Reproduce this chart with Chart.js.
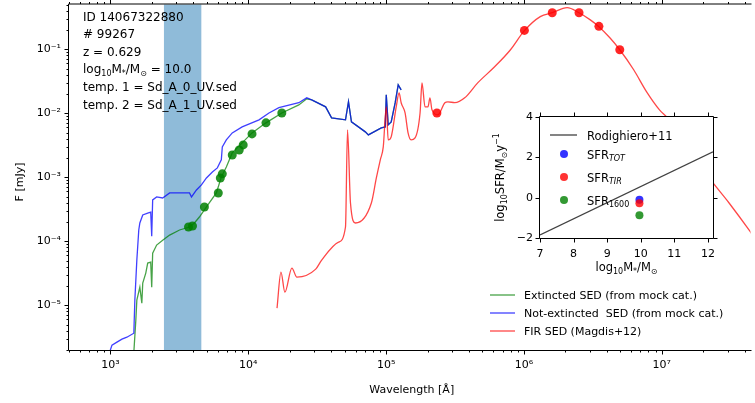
<!DOCTYPE html>
<html>
<head>
<meta charset="utf-8">
<script src="https://cdn.jsdelivr.net/npm/chart.js@4.4.1/dist/chart.umd.min.js"></script>
<style>
html, body { margin: 0; padding: 0; background: #fff; }
#wrap { position: relative; width: 755px; height: 403px; overflow: hidden; }
#sed { position: absolute; left: 0; top: 0; }
#inset { position: absolute; left: 470px; top: 100px; }
</style>
</head>
<body>
<div id="wrap">
<canvas id="sed" width="755" height="403"></canvas>
<canvas id="inset" width="260" height="180"></canvas>
</div>
<script>
// not-extincted SED (blue)
const blueWl = [990, 1025, 1114, 1211, 1315, 1477, 1502, 1553, 1604, 1633, 1714, 1862, 1958, 1991, 2023, 2162, 2391, 2686, 3171, 3744, 3870, 4205, 4570, 4966, 5485, 5960, 6370, 6475, 6925, 7645, 9020, 11960, 14120, 16670, 23240, 26540, 28840, 36380, 40180, 50700, 53300, 56000, 70600, 74300, 92200, 98500, 100200, 103500, 108800, 116300, 122300, 128500];
const blueFlux = [1.9e-6, 2.38e-6, 2.65e-6, 2.95e-6, 3.17e-6, 3.66e-6, 1.2e-5, 5.1e-5, 1.5e-4, 1.93e-4, 2.57e-4, 2.76e-4, 2.86e-4, 1.2e-4, 4.42e-4, 4.92e-4, 4.75e-4, 5.68e-4, 5.68e-4, 5.68e-4, 4.92e-4, 6.33e-4, 7.58e-4, 9.75e-4, 1.21e-3, 1.40e-3, 1.87e-3, 2.98e-3, 3.83e-3, 4.93e-3, 6.12e-3, 7.88e-3, 1.01e-2, 1.22e-2, 1.46e-2, 1.74e-2, 1.62e-2, 1.26e-2, 8.47e-3, 7.88e-3, 1.51e-2, 7.33e-3, 5.12e-3, 4.59e-3, 5.91e-3, 6.12e-3, 1.94e-2, 6.58e-3, 7.33e-3, 1.46e-2, 2.78e-2, 2.32e-2];

// extincted SED (green)
const greenWl = [1477, 1527, 1553, 1633, 1688, 1714, 1803, 1862, 1958, 1991, 2023, 2162, 2391, 2686, 3171, 3744, 4064, 4416, 4966, 5865, 6370, 6925, 7645, 9020, 10640, 13430, 17500, 23240, 26540, 28840, 36380, 40180, 50700, 53300, 56000, 70600, 74300, 92200, 98500, 100200, 103500, 108800, 116300, 122300, 128500];
const greenFlux = [1.85e-6, 5.85e-6, 1.2e-5, 1.92e-5, 1.08e-5, 2.22e-5, 3.18e-5, 4.56e-5, 4.72e-5, 1.92e-5, 6.53e-5, 8.72e-5, 1.04e-4, 1.25e-4, 1.5e-4, 1.67e-4, 1.93e-4, 2.39e-4, 3.43e-4, 5.68e-4, 1.01e-3, 1.45e-3, 2.4e-3, 3.44e-3, 4.93e-3, 7.08e-3, 1.01e-2, 1.35e-2, 1.68e-2, 1.62e-2, 1.26e-2, 8.47e-3, 7.88e-3, 1.51e-2, 7.33e-3, 5.12e-3, 4.59e-3, 5.91e-3, 6.12e-3, 1.94e-2, 6.58e-3, 7.33e-3, 1.46e-2, 2.78e-2, 2.32e-2];

// photometry (green dots)
const photWl = [3680, 3935, 4800, 6055, 6265, 6475, 7645, 8590, 9180, 10640, 13430, 17500];
const photFlux = [1.67e-4, 1.73e-4, 3.43e-4, 5.68e-4, 9.75e-4, 1.13e-3, 2.23e-3, 2.67e-3, 3.2e-3, 4.76e-3, 7.08e-3, 1.01e-2];

// FIR SED (red)
const firWl = [16150, 17250, 18420, 20700, 22500, 30830, 34060, 45150, 50700, 52440, 55100, 59900, 78100, 84900, 90700, 95300, 100200, 103500, 108800, 118300, 124200, 128500, 137200, 144200, 151600, 162100, 176200, 182000, 191400, 201100, 207900, 215000, 237500, 266800, 280500, 314900, 371500, 461400, 612200, 798300, 1.007e6, 1.313e6, 1.603e6, 2.056e6, 2.508e6, 3.01e6, 3.497e6, 4.198e6, 4.955e6, 6.25e6, 7.76e6, 9.62e6, 1.117e7, 2.207e7, 3.077e7, 4.29e7, 4.82e7];
const firFlux = [9.0e-6, 3.3e-5, 1.6e-5, 3.81e-5, 2.75e-5, 3.67e-5, 5.08e-5, 9.71e-5, 1.67e-4, 5.5e-3, 3.96e-4, 1.93e-4, 3.96e-4, 9.75e-4, 1.87e-3, 2.98e-3, 1.26e-2, 3.83e-3, 4.28e-3, 1.26e-2, 2.08e-2, 1.46e-2, 1.01e-2, 4.93e-3, 3.83e-3, 4.12e-3, 1.01e-2, 2.98e-2, 1.26e-2, 1.26e-2, 1.74e-2, 1.13e-2, 9.44e-3, 1.46e-2, 1.51e-2, 1.46e-2, 1.74e-2, 2.98e-2, 5.32e-2, 9.82e-2, 0.195, 0.323, 0.372, 0.446, 0.372, 0.29, 0.225, 0.151, 9.82e-2, 4.78e-2, 2.16e-2, 1.13e-2, 8.17e-3, 9.75e-4, 3.96e-4, 1.5e-4, 1.04e-4];

// FIR photometry (red dots)
const firPhotWl = [233400, 1.007e6, 1.603e6, 2.508e6, 3.497e6, 4.955e6];
const firPhotFlux = [1.01e-2, 0.197, 0.372, 0.372, 0.228, 9.82e-2];

// shaded band
const bandWl = [2443, 4561];

// axes
const xDecades = [1e3, 1e4, 1e5, 1e6, 1e7];
const xDecadeLabels = ['10³', '10⁴', '10⁵', '10⁶', '10⁷'];
const yDecades = [1e-5, 1e-4, 1e-3, 1e-2, 1e-1];
const yDecadeLabels = ['10⁻⁵', '10⁻⁴', '10⁻³', '10⁻²', '10⁻¹'];

const infoLines = [
  [['ID 14067322880']],
  [['# 99267']],
  [['z = 0.629']],
  [['log'], ['10', 'sub'], ['M'], ['*', 'sub'], ['/M'], ['⊙', 'sub'], [' = 10.0']],
  [['temp. 1 = Sd_A_0_UV.sed']],
  [['temp. 2 = Sd_A_1_UV.sed']]
];
const legendNames = ['Extincted SED (from mock cat.)', 'Not-extincted  SED (from mock cat.)', 'FIR SED (Magdis+12)'];

// inset: SFR vs stellar mass
const rodiMass = [7, 12.15];
const rodiSfr = [-1.85, 2.27];
const sfrNames = ['SFR_TOT', 'SFR_TIR', 'SFR_1600'];
const sfrMass = [9.96, 9.96, 9.96];
const sfrValue = [-0.1, -0.28, -0.87];
const insetXTicks = [7, 8, 9, 10, 11, 12];
const insetYTicks = [-2, 0, 2, 4];

const FONT = 'DejaVu Sans';
const BLUE = 'rgba(0,0,255,0.75)';
const GREEN = 'rgba(0,128,0,0.72)';
const RED = 'rgba(255,0,0,0.72)';

function zip(xs, ys) { return xs.map((x, i) => ({ x: x, y: ys[i] })); }

function logTicks(min, max) {
  const out = [];
  for (let e = Math.floor(Math.log10(min)); e <= Math.ceil(Math.log10(max)); e++) {
    for (let m = 1; m <= 9; m++) {
      const v = m * Math.pow(10, e);
      if (v >= min * 0.999999 && v <= max * 1.000001) out.push(v);
    }
  }
  return out;
}
function decadeIndex(list, v) {
  return list.findIndex(d => Math.abs(Math.log10(d) - Math.log10(v)) < 1e-6);
}

function drawRich(ctx, parts, x, y, size, align) {
  const fontFor = k => (k === 'isub' ? 'italic ' : '') + (k ? Math.round(size * 0.7) : size) + 'px "' + FONT + '"';
  let w = 0;
  parts.forEach(p => { ctx.font = fontFor(p[1] || ''); w += ctx.measureText(p[0]).width; });
  let cx = align === 'center' ? x - w / 2 : x;
  ctx.textAlign = 'left';
  ctx.textBaseline = 'alphabetic';
  parts.forEach(p => {
    const k = p[1] || '';
    ctx.font = fontFor(k);
    const dy = k === 'sup' ? -size * 0.42 : (k ? size * 0.22 : 0);
    ctx.fillText(p[0], cx, y + dy);
    cx += ctx.measureText(p[0]).width;
  });
}

function sub(label) {
  const i = label.indexOf('_');
  if (i < 0) return [[label]];
  const s = label.slice(i + 1);
  return [[label.slice(0, i)], [s, /^\d+$/.test(s) ? 'sub' : 'isub']];
}

const sedDecor = {
  id: 'sedDecor',
  beforeDatasetsDraw(chart) {
    const { ctx, chartArea: a, scales: { x } } = chart;
    const x0 = x.getPixelForValue(bandWl[0]);
    const x1 = x.getPixelForValue(bandWl[1]);
    ctx.save();
    ctx.fillStyle = 'rgba(31,119,180,0.5)';
    ctx.fillRect(x0, a.top, x1 - x0, a.bottom - a.top);
    ctx.restore();
  },
  afterDraw(chart) {
    const { ctx, chartArea: a, scales: { x, y } } = chart;
    ctx.save();
    ctx.strokeStyle = '#000';
    ctx.lineWidth = 1;
    ctx.beginPath();
    ctx.moveTo(a.left - 0.5, a.top - 0.5);
    ctx.lineTo(a.right + 1, a.top - 0.5);
    ctx.moveTo(a.left - 0.5, a.top - 0.5);
    ctx.lineTo(a.left - 0.5, a.bottom + 0.5);
    ctx.lineTo(a.right + 1, a.bottom + 0.5);
    x.ticks.forEach(t => {
      const px = Math.round(x.getPixelForValue(t.value)) + 0.5;
      const len = decadeIndex(xDecades, t.value) >= 0 ? 4 : 2;
      ctx.moveTo(px, a.bottom + 0.5); ctx.lineTo(px, a.bottom + 0.5 + len);
      ctx.moveTo(px, a.top - 0.5); ctx.lineTo(px, a.top - 0.5 - len);
    });
    y.ticks.forEach(t => {
      const py = Math.round(y.getPixelForValue(t.value)) + 0.5;
      const len = decadeIndex(yDecades, t.value) >= 0 ? 4 : 2;
      ctx.moveTo(a.left - 0.5, py); ctx.lineTo(a.left - 0.5 - len, py);
    });
    ctx.stroke();

    ctx.fillStyle = '#000';
    infoLines.forEach((ln, i) => drawRich(ctx, ln, 83, 20.5 + i * 17.6, 12, 'left'));

    // legend
    [GREEN, BLUE, RED].forEach((c, i) => {
      const ly = 295 + i * 18;
      ctx.strokeStyle = c;
      ctx.lineWidth = 1.3;
      ctx.beginPath();
      ctx.moveTo(490, ly); ctx.lineTo(515, ly);
      ctx.stroke();
      ctx.fillStyle = '#000';
      drawRich(ctx, [[legendNames[i]]], 524, ly + 4, 11, 'left');
    });

    drawRich(ctx, [['Wavelength [Å]']], (a.left + a.right) / 2 + 2, 393, 11, 'center');
    ctx.translate(23, 182);
    ctx.rotate(-Math.PI / 2);
    drawRich(ctx, [['F [mJy]']], 0, 0, 11, 'center');
    ctx.restore();
  }
};

new Chart(document.getElementById('sed'), {
  type: 'scatter',
  data: {
    datasets: [
      { data: zip(photWl, photFlux), backgroundColor: 'rgba(0,128,0,0.85)', borderWidth: 0, pointRadius: 4.5, order: 0 },
      { data: zip(firPhotWl, firPhotFlux), backgroundColor: 'rgba(255,0,0,0.85)', borderWidth: 0, pointRadius: 4.5, order: 0 },
      { data: zip(firWl, firFlux), showLine: true, borderColor: RED, borderWidth: 1.3, pointRadius: 0, cubicInterpolationMode: 'monotone', order: 1 },
      { data: zip(blueWl, blueFlux), showLine: true, borderColor: BLUE, borderWidth: 1.3, pointRadius: 0, order: 2 },
      { data: zip(greenWl, greenFlux), showLine: true, borderColor: GREEN, borderWidth: 1.3, pointRadius: 0, order: 3 }
    ]
  },
  options: {
    responsive: false,
    animation: false,
    layout: { padding: { top: 4, left: 0, right: 0, bottom: 0 } },
    plugins: { legend: { display: false }, tooltip: { enabled: false } },
    scales: {
      x: {
        type: 'logarithmic', min: 500, max: 4.4e7,
        grid: { display: false, drawTicks: false, tickLength: 0 },
        border: { display: false },
        afterBuildTicks: s => { s.ticks = logTicks(s.min, s.max).map(v => ({ value: v })); },
        afterFit: s => { s.height = 53; s.paddingLeft = 0; s.paddingRight = 0; },
        ticks: {
          autoSkip: false, maxRotation: 0, padding: 9, color: '#000',
          font: { family: FONT, size: 11 },
          callback: v => { const i = decadeIndex(xDecades, v); return i >= 0 ? xDecadeLabels[i] : ''; }
        }
      },
      y: {
        type: 'logarithmic', min: 2e-6, max: 0.5,
        grid: { display: false, drawTicks: false, tickLength: 0 },
        border: { display: false },
        afterBuildTicks: s => { s.ticks = logTicks(s.min, s.max).map(v => ({ value: v })); },
        afterFit: s => { s.width = 69; s.paddingTop = 0; s.paddingBottom = 0; },
        ticks: {
          autoSkip: false, padding: 8, color: '#000',
          font: { family: FONT, size: 11 },
          callback: v => { const i = decadeIndex(yDecades, v); return i >= 0 ? yDecadeLabels[i] : ''; }
        }
      }
    }
  },
  plugins: [sedDecor]
});

const insetDecor = {
  id: 'insetDecor',
  beforeDraw(chart) {
    const { ctx, chartArea: a } = chart;
    ctx.save();
    ctx.fillStyle = '#fff';
    ctx.fillRect(a.left, a.top, a.right - a.left, a.bottom - a.top);
    ctx.restore();
  },
  afterDraw(chart) {
    const { ctx, chartArea: a, scales: { x, y } } = chart;
    ctx.save();
    ctx.strokeStyle = '#000';
    ctx.lineWidth = 1;
    ctx.beginPath();
    ctx.rect(a.left - 0.5, a.top - 0.5, a.right - a.left + 1, a.bottom - a.top + 1);
    insetXTicks.forEach(v => {
      const px = Math.round(x.getPixelForValue(v)) + 0.5;
      ctx.moveTo(px, a.bottom + 0.5); ctx.lineTo(px, a.bottom + 4.5);
      ctx.moveTo(px, a.top - 0.5); ctx.lineTo(px, a.top - 4.5);
    });
    insetYTicks.forEach(v => {
      const py = Math.round(y.getPixelForValue(v)) + 0.5;
      ctx.moveTo(a.left - 0.5, py); ctx.lineTo(a.left - 4.5, py);
      ctx.moveTo(a.right + 0.5, py); ctx.lineTo(a.right + 4.5, py);
    });
    ctx.stroke();

    // legend
    ctx.strokeStyle = 'rgba(0,0,0,0.75)';
    ctx.lineWidth = 1.3;
    ctx.beginPath();
    ctx.moveTo(80, 35); ctx.lineTo(107, 35);
    ctx.stroke();
    ctx.fillStyle = '#000';
    drawRich(ctx, [['Rodighiero+11']], 117, 39.5, 11.5, 'left');
    const cols = ['rgba(0,0,255,0.8)', 'rgba(255,0,0,0.8)', 'rgba(0,128,0,0.8)'];
    sfrNames.forEach((n, i) => {
      const ly = 54 + i * 23;
      ctx.fillStyle = cols[i];
      ctx.beginPath();
      ctx.arc(94, ly, 4, 0, Math.PI * 2);
      ctx.fill();
      ctx.fillStyle = '#000';
      drawRich(ctx, sub(n), 117, ly + 4.5, 11.5, 'left');
    });

    drawRich(ctx, [['log'], ['10', 'sub'], ['M'], ['*', 'sub'], ['/M'], ['⊙', 'sub']], (a.left + a.right) / 2, 171, 11.5, 'center');
    ctx.translate(34, (a.top + a.bottom) / 2);
    ctx.rotate(-Math.PI / 2);
    drawRich(ctx, [['log'], ['10', 'sub'], ['SFR/M'], ['⊙', 'sub'], ['y'], ['−1', 'sup']], 0, 0, 11.5, 'center');
    ctx.restore();
  }
};

new Chart(document.getElementById('inset'), {
  type: 'scatter',
  data: {
    datasets: [
      { data: zip(sfrMass.slice(2), sfrValue.slice(2)), backgroundColor: 'rgba(0,128,0,0.8)', borderWidth: 0, pointRadius: 4, order: 0 },
      { data: zip(sfrMass.slice(1, 2), sfrValue.slice(1, 2)), backgroundColor: 'rgba(255,0,0,0.8)', borderWidth: 0, pointRadius: 4, order: 1 },
      { data: zip(sfrMass.slice(0, 1), sfrValue.slice(0, 1)), backgroundColor: 'rgba(0,0,255,0.8)', borderWidth: 0, pointRadius: 4, order: 2 },
      { data: zip(rodiMass, rodiSfr), showLine: true, borderColor: 'rgba(0,0,0,0.75)', borderWidth: 1.3, pointRadius: 0, order: 3 }
    ]
  },
  options: {
    responsive: false,
    animation: false,
    layout: { padding: { top: 17, right: 17, left: 0, bottom: 0 } },
    plugins: { legend: { display: false }, tooltip: { enabled: false } },
    scales: {
      x: {
        type: 'linear', min: 7, max: 12.15,
        grid: { display: false, drawTicks: false, tickLength: 0 },
        border: { display: false },
        afterBuildTicks: s => { s.ticks = insetXTicks.map(v => ({ value: v })); },
        afterFit: s => { s.height = 42; s.paddingLeft = 0; s.paddingRight = 0; },
        ticks: { autoSkip: false, maxRotation: 0, padding: 10, color: '#000', font: { family: FONT, size: 11 } }
      },
      y: {
        type: 'linear', min: -2, max: 4,
        grid: { display: false, drawTicks: false, tickLength: 0 },
        border: { display: false },
        afterBuildTicks: s => { s.ticks = insetYTicks.map(v => ({ value: v })); },
        afterFit: s => { s.width = 70; s.paddingTop = 0; s.paddingBottom = 0; },
        ticks: {
          autoSkip: false, padding: 7, color: '#000', font: { family: FONT, size: 11 },
          callback: v => (v < 0 ? '−' + Math.abs(v) : String(v))
        }
      }
    }
  },
  plugins: [insetDecor]
});
</script>
</body>
</html>
